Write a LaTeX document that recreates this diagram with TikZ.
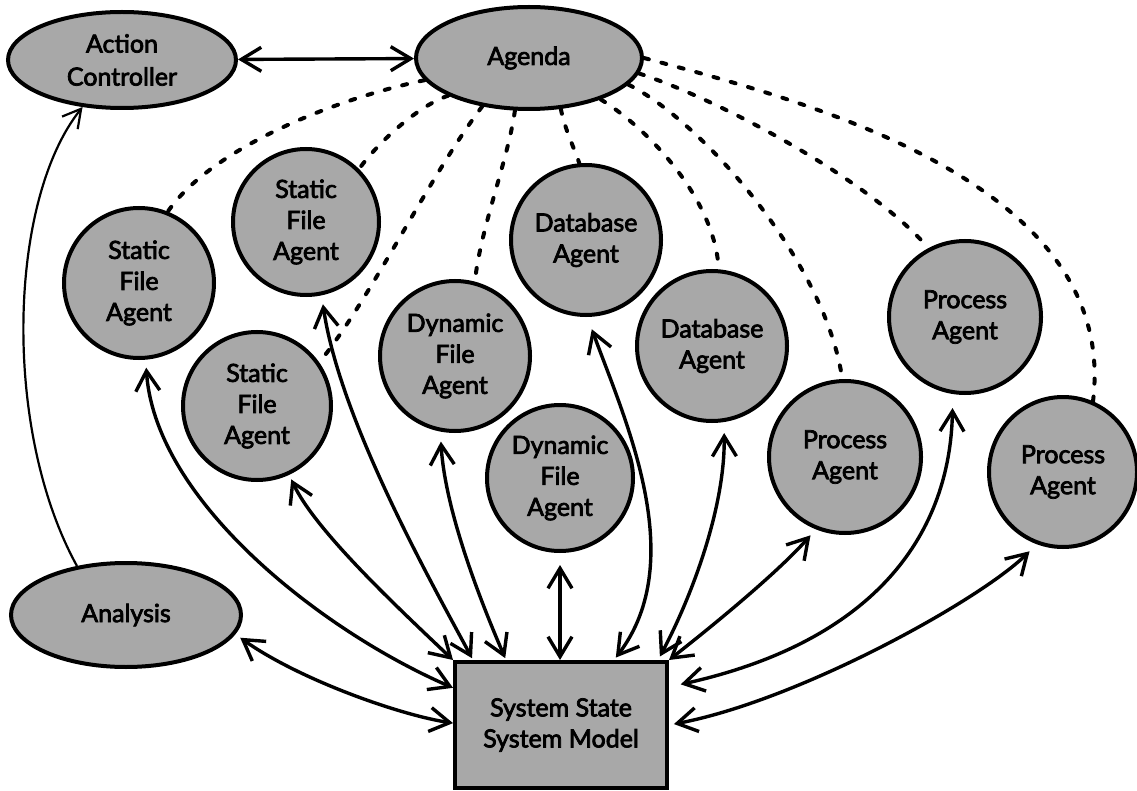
\documentclass[tikz,border=0pt]{standalone}
\usepackage{fontspec}
\setmainfont{Lato}
\newfontfamily\labfont{Lato}[BoldFont=Lato, BoldFeatures={FakeBold=3}]
\usetikzlibrary{arrows.meta,shapes.geometric}
\definecolor{fillgray}{gray}{0.66}
\begin{document}
\begin{tikzpicture}[x=1pt,y=-1pt,
  agent/.style={ellipse, draw=black, line width=4pt, fill=fillgray, inner sep=0pt,
    minimum width=150pt, minimum height=150pt, align=center,
    font=\labfont\bfseries\fontsize{25}{31}\selectfont},
  oval/.style={ellipse, draw=black, line width=4pt, fill=fillgray, inner sep=0pt,
    align=center, font=\labfont\bfseries\fontsize{25}{33}\selectfont},
  sysbox/.style={rectangle, draw=black, line width=4pt, fill=fillgray, inner sep=0pt,
    minimum width=212pt, minimum height=126pt, align=center,
    font=\labfont\bfseries\fontsize{25}{31}\selectfont},
  link/.style={line width=3.4pt,
    {Straight Barb[length=20pt,width=24pt]}-{Straight Barb[length=20pt,width=24pt]}},
  thinlink/.style={line width=2.2pt, -{Straight Barb[length=18pt,width=20pt]}},
  cue/.style={line width=4pt, dash pattern=on 5pt off 13pt, line cap=round},
]
\fill[white] (0,0) rectangle (1137,791);
\useasboundingbox (0,0) rectangle (1137,791);

% nodes
\node[oval, minimum width=228pt, minimum height=96pt] (ac) at (122,60) {Action\\Controller};
\node[oval, minimum width=226pt, minimum height=102pt] (ag) at (529,58) {Agenda};
\node[oval, minimum width=230pt, minimum height=104pt] (an) at (126,615) {Analysis};
\node[agent] (sfa1) at (139,283) {Static\\File\\Agent};
\node[agent, minimum width=146pt, minimum height=146pt] (sfa2) at (306,222) {Static\\File\\Agent};
\node[agent, minimum width=148pt, minimum height=148pt] (sfa3) at (257,406) {Static\\File\\Agent};
\node[agent] (dfa1) at (455,356) {Dynamic\\File\\Agent};
\node[agent, minimum width=146pt, minimum height=146pt] (dfa2) at (560,478) {Dynamic\\File\\Agent};
\node[agent] (dba1) at (586,240) {Database\\Agent};
\node[agent] (dba2) at (712,346) {Database\\Agent};
\node[agent, minimum width=152pt, minimum height=152pt] (pa1) at (965,317) {Process\\Agent};
\node[agent, minimum width=152pt, minimum height=152pt] (pa2) at (845,457) {Process\\Agent};
\node[agent, minimum width=148pt, minimum height=150pt] (pa3) at (1063,472) {Process\\Agent};
\node[sysbox] (box) at (561,725) {System State\\System Model};

% dashed links from the agenda
\draw[cue] (ag.-168) .. controls (330,100) and (210,150) .. (sfa1.68);
\draw[cue] (ag.-155) .. controls (420,105) and (380,140) .. (sfa2.45);
\draw[cue] (ag.-134) .. controls (430,175) and (370,300) .. (sfa3.35);
\draw[cue] (ag.-105) .. controls (508,160) and (480,230) .. (dfa1.75);
\draw[cue] (ag.-58) .. controls (565,130) and (575,150) .. (dba1.95);
\draw[cue] (ag.-30) .. controls (650,130) and (715,200) .. (dba2.85);
\draw[cue] (ag.-15) .. controls (700,120) and (825,260) .. (pa2.92);
\draw[cue] (ag.-8) .. controls (720,100) and (870,180) .. (pa1.118);
\draw[cue] (ag.0) .. controls (800,100) and (1120,180) .. (pa3.67);

% solid links
\draw[link] (ac) -- (ag);
\draw[thinlink] (an.135) .. controls (2,430) and (8,200) .. (ac.-130);
\draw[link, shorten <=8pt] (sfa1.-85) .. controls (155,500) and (320,630) .. (box.161);
\draw[link, shorten <=5pt] (sfa3.-65) .. controls (315,530) and (395,605) .. (box.north west);
\draw[link, shorten <=9pt, shorten >=2pt] (sfa2.-78) .. controls (340,420) and (430,580) .. ([xshift=20pt]box.north west);
\draw[link, shorten <=10pt, shorten >=2pt] (dfa1.-101) .. controls (445,510) and (480,600) .. ([xshift=53pt]box.north west);
\draw[link, shorten <=12pt] (dfa2.south) -- (dfa2.south |- box.north);
\draw[link, shorten <=13pt, shorten >=3pt] (dba1.-89) .. controls (625,420) and (690,560) .. ([xshift=161pt]box.north west);
\draw[link, shorten <=11pt, shorten >=4pt] (dba2.-81) .. controls (725,510) and (690,600) .. ([xshift=-11pt]box.north east);
\draw[link, shorten <=8pt] (pa2.-112) .. controls (780,570) and (720,620) .. (box.north east);
\draw[link, shorten <=14pt, shorten >=12pt] (pa1.-99) .. controls (950,530) and (880,640) .. ([yshift=38pt]box.east);
\draw[link, shorten <=10pt, shorten >=5pt] (pa3.-110) .. controls (980,600) and (800,700) .. (box.east);
\draw[link, shorten <=6pt] (an.-10) .. controls (300,680) and (400,715) .. (box.179);
\end{tikzpicture}
\end{document}
